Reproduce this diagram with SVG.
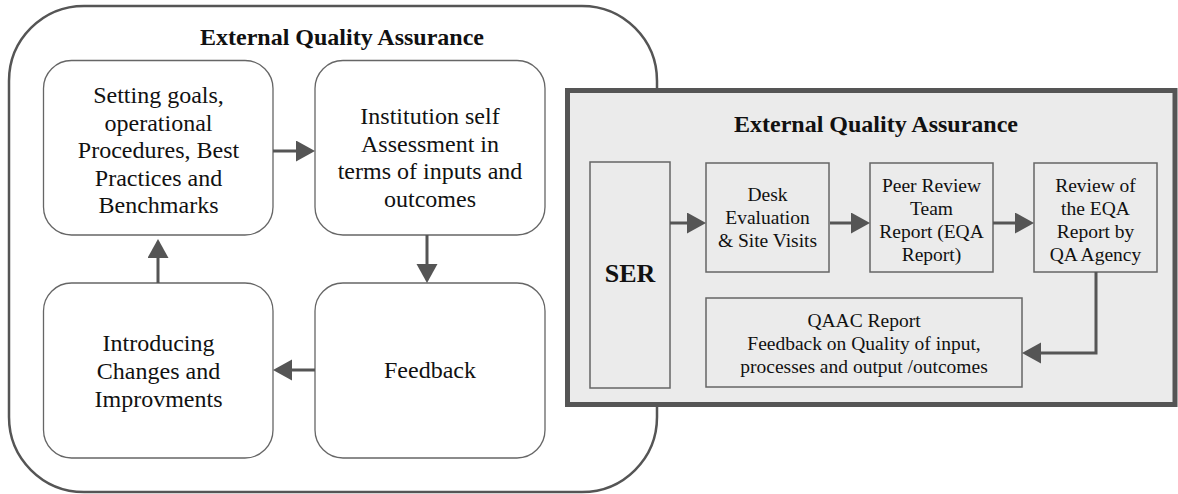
<svg xmlns="http://www.w3.org/2000/svg" width="1178" height="494" viewBox="0 0 1178 494">
<defs>
<style>
text{font-family:"Liberation Serif","Times New Roman",serif;fill:#111;text-anchor:middle}
.big{font-size:24px}
.sm{font-size:19.5px}
.ttl{font-size:24px;font-weight:bold}
.rbox{fill:#fff;stroke:#666;stroke-width:1.3}
.sbox{fill:#ebebeb;stroke:#666;stroke-width:1.5}
.con{fill:none;stroke:#555;stroke-width:3;marker-end:url(#ah)}
</style>
<marker id="ah" markerUnits="userSpaceOnUse" markerWidth="20" markerHeight="22" refX="10" refY="10.5" orient="auto">
<path d="M0,0 L19,10.5 L0,21 z" fill="#555"/>
</marker>
</defs>
<rect width="1178" height="494" fill="#fff"/>
<g id="outer">
<rect x="9" y="6" width="648" height="486" rx="75" ry="75" fill="#fff" stroke="#555" stroke-width="2.5"/>
<text class="ttl" x="342" y="45">External Quality Assurance</text>
</g>
<g id="n-goals">
<rect class="rbox" x="43.5" y="60.5" width="229.5" height="174.5" rx="28"/>
<text class="big"><tspan x="158.5" y="103">Setting goals,</tspan><tspan x="158.5" y="130.5">operational</tspan><tspan x="158.5" y="158">Procedures, Best</tspan><tspan x="158.5" y="185.5">Practices and</tspan><tspan x="158.5" y="213">Benchmarks</tspan></text>
</g>
<g id="n-self">
<rect class="rbox" x="315" y="60.5" width="230" height="174.5" rx="28"/>
<text class="big"><tspan x="430" y="124">Institution self</tspan><tspan x="430" y="151.5">Assessment in</tspan><tspan x="430" y="179">terms of inputs and</tspan><tspan x="430" y="206.5">outcomes</tspan></text>
</g>
<g id="n-changes">
<rect class="rbox" x="43.5" y="283" width="229.5" height="175" rx="28"/>
<text class="big"><tspan x="158.5" y="351">Introducing</tspan><tspan x="158.5" y="379">Changes and</tspan><tspan x="158.5" y="407">Improvments</tspan></text>
</g>
<g id="n-feedback">
<rect class="rbox" x="315" y="283" width="230" height="175" rx="28"/>
<text class="big" x="430" y="378">Feedback</text>
</g>
<g id="panel">
<rect x="567.5" y="90.5" width="607.5" height="314" fill="#ebebeb" stroke="#555" stroke-width="5"/>
<text class="ttl" x="876" y="132">External Quality Assurance</text>
</g>
<g id="n-ser">
<rect class="sbox" x="590" y="162" width="80" height="226"/>
<text x="630" y="282" style="font-size:26px;font-weight:bold">SER</text>
</g>
<g id="n-desk">
<rect class="sbox" x="706" y="163" width="123" height="109"/>
<text class="sm"><tspan x="767.5" y="201">Desk</tspan><tspan x="767.5" y="224">Evaluation</tspan><tspan x="767.5" y="247">&amp; Site Visits</tspan></text>
</g>
<g id="n-peer">
<rect class="sbox" x="870" y="163" width="123" height="109"/>
<text class="sm"><tspan x="931.5" y="192">Peer Review</tspan><tspan x="931.5" y="215">Team</tspan><tspan x="931.5" y="238">Report (EQA</tspan><tspan x="931.5" y="261">Report)</tspan></text>
</g>
<g id="n-review">
<rect class="sbox" x="1034" y="163" width="123" height="109"/>
<text class="sm"><tspan x="1095.5" y="192">Review of</tspan><tspan x="1095.5" y="215">the EQA</tspan><tspan x="1095.5" y="238">Report by</tspan><tspan x="1095.5" y="261">QA Agency</tspan></text>
</g>
<g id="n-qaac">
<rect class="sbox" x="706" y="298" width="316" height="89"/>
<text class="sm"><tspan x="864" y="327">QAAC Report</tspan><tspan x="864" y="350">Feedback on Quality of input,</tspan><tspan x="864" y="373">processes and output /outcomes</tspan></text>
</g>
<g id="connectors">
<path class="con" d="M273,151 H306"/>
<path class="con" d="M427,235 V274"/>
<path class="con" d="M315,370 H282"/>
<path class="con" d="M158,283 V248"/>
<path class="con" d="M670,223 H697"/>
<path class="con" d="M830,223 H861"/>
<path class="con" d="M993,223 H1025"/>
<path class="con" d="M1096,272 V353 H1031"/>
</g>
</svg>
